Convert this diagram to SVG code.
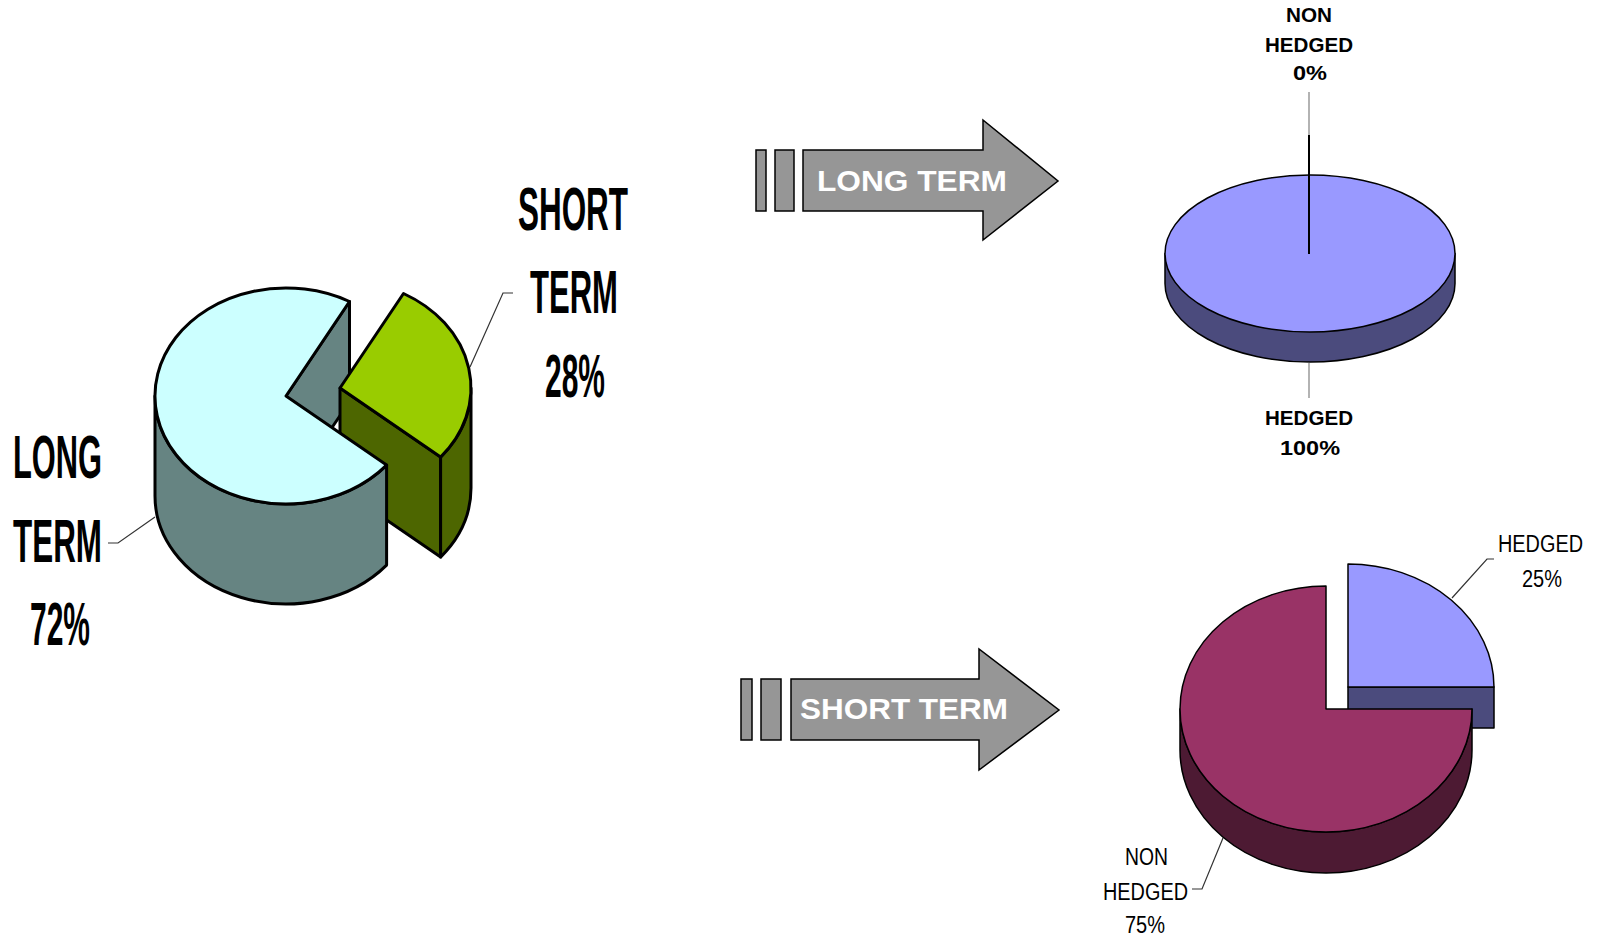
<svg xmlns="http://www.w3.org/2000/svg" width="1598" height="938" viewBox="0 0 1598 938">
<style>
.big{font-family:"Liberation Sans",Arial,sans-serif;font-weight:bold;font-size:61px;fill:#000;text-anchor:middle}
.arr{font-family:"Liberation Sans",Arial,sans-serif;font-weight:bold;font-size:30px;fill:#fff}
.lb{font-family:"Liberation Sans",Arial,sans-serif;font-weight:bold;font-size:21px;fill:#000;text-anchor:middle}
.ln{font-family:"Liberation Sans",Arial,sans-serif;font-size:23px;fill:#000;text-anchor:middle}
.p3{stroke:#000;stroke-width:3;stroke-linejoin:round}
.p1{stroke:#000;stroke-width:1.5;stroke-linejoin:round}
.ar{fill:#969696;stroke:#000;stroke-width:1.5}
.lead{fill:none;stroke:#333;stroke-width:1.2}
</style>
<rect width="1598" height="938" fill="#fff"/>

<g id="pie-term">
  <path class="p3" fill="#668482" d="M286,396 L349.5,301.5 L349.5,401.5 L286,496 Z"/>
  <path class="p3" fill="#4D6600" d="M340,388 L440.6,457.1 L440.6,557.1 L340,488 Z"/>
  <path class="p3" fill="#4D6600" d="M471,388 A131 108 0 0 1 440.6,457.1 L440.6,557.1 A131 108 0 0 0 471,488 Z"/>
  <path class="p3" fill="#99CC00" d="M340,388 L403.5,293.5 A131 108 0 0 1 440.6,457.1 Z"/>
  <path class="p3" fill="#668482" d="M386.6,465.1 L386.6,565.1 A131 108 0 0 1 155,496 L155,396 A131 108 0 0 0 386.6,465.1 Z"/>
  <path class="p3" fill="#CCFFFF" d="M286,396 L349.5,301.5 A131 108 0 1 0 386.6,465.1 Z"/>
</g>

<g id="label-long-term">
  <text class="big" x="57.5" y="478" textLength="89" lengthAdjust="spacingAndGlyphs">LONG</text>
  <text class="big" x="57.5" y="562" textLength="89" lengthAdjust="spacingAndGlyphs">TERM</text>
  <text class="big" x="60" y="645" textLength="60" lengthAdjust="spacingAndGlyphs">72%</text>
</g>
<g id="label-short-term">
  <text class="big" x="573" y="230" textLength="110" lengthAdjust="spacingAndGlyphs">SHORT</text>
  <text class="big" x="574" y="313" textLength="88" lengthAdjust="spacingAndGlyphs">TERM</text>
  <text class="big" x="575" y="397" textLength="60" lengthAdjust="spacingAndGlyphs">28%</text>
</g>

<g id="arrow-long">
  <rect class="ar" x="756" y="150" width="10" height="61"/>
  <rect class="ar" x="775" y="150" width="19" height="61"/>
  <path class="ar" d="M803,150 L983,150 L983,120 L1058,181 L983,240 L983,211 L803,211 Z"/>
  <text class="arr" x="817" y="191" textLength="190" lengthAdjust="spacingAndGlyphs">LONG TERM</text>
</g>

<g id="arrow-short">
  <rect class="ar" x="741" y="679" width="11" height="61"/>
  <rect class="ar" x="761" y="679" width="20" height="61"/>
  <path class="ar" d="M791,679 L979,679 L979,649 L1059,710 L979,770 L979,740 L791,740 Z"/>
  <text class="arr" x="800" y="719" textLength="208" lengthAdjust="spacingAndGlyphs">SHORT TERM</text>
</g>

<g id="pie-long">
  <path class="p1" fill="#4B4B7D" d="M1165,253.5 L1165,283.5 A145 78.5 0 0 0 1455,283.5 L1455,253.5 Z"/>
  <ellipse class="p1" fill="#9999FF" cx="1310" cy="253.5" rx="145" ry="78.5"/>
</g>

<g id="pie-short">
  <rect class="p1" fill="#4B4B7D" x="1348" y="687" width="146" height="41"/>
  <path class="p1" fill="#9999FF" d="M1348,687 L1348,564 A146 123 0 0 1 1494,687 Z"/>
  <path class="p1" fill="#4D1A33" d="M1472,709 L1472,750 A146 123 0 0 1 1180,750 L1180,709 A146 123 0 0 0 1472,709 Z"/>
  <path class="p1" fill="#993366" d="M1326,709 L1326,586 A146 123 0 1 0 1472,709 Z"/>
</g>

<g id="connectors">
  <polyline class="lead" points="155,517 118,543 108,543"/>
  <polyline class="lead" points="470,367 503,293 513,293"/>
  <line x1="1309" y1="92" x2="1309" y2="135" stroke="#808080" stroke-width="1.2"/>
  <line x1="1309" y1="135" x2="1309" y2="254" stroke="#000" stroke-width="2"/>
  <line x1="1309" y1="363" x2="1309" y2="398" stroke="#808080" stroke-width="1.2"/>
  <polyline class="lead" points="1452,598 1487,559 1494,559"/>
  <polyline class="lead" points="1223,838 1202,889 1192,889"/>
</g>

<g id="labels-long-pie">
  <text class="lb" x="1309" y="22" textLength="46" lengthAdjust="spacingAndGlyphs">NON</text>
  <text class="lb" x="1309" y="52" textLength="88" lengthAdjust="spacingAndGlyphs">HEDGED</text>
  <text class="lb" x="1310" y="80" textLength="34" lengthAdjust="spacingAndGlyphs">0%</text>
  <text class="lb" x="1309" y="425" textLength="88" lengthAdjust="spacingAndGlyphs">HEDGED</text>
  <text class="lb" x="1310" y="455" textLength="60" lengthAdjust="spacingAndGlyphs">100%</text>
</g>

<g id="labels-short-pie">
  <text class="ln" x="1540.5" y="552" textLength="85" lengthAdjust="spacingAndGlyphs">HEDGED</text>
  <text class="ln" x="1542" y="587" textLength="40" lengthAdjust="spacingAndGlyphs">25%</text>
  <text class="ln" x="1146.5" y="865" textLength="43" lengthAdjust="spacingAndGlyphs">NON</text>
  <text class="ln" x="1145.5" y="900" textLength="85" lengthAdjust="spacingAndGlyphs">HEDGED</text>
  <text class="ln" x="1145" y="933" textLength="40" lengthAdjust="spacingAndGlyphs">75%</text>
</g>
</svg>
